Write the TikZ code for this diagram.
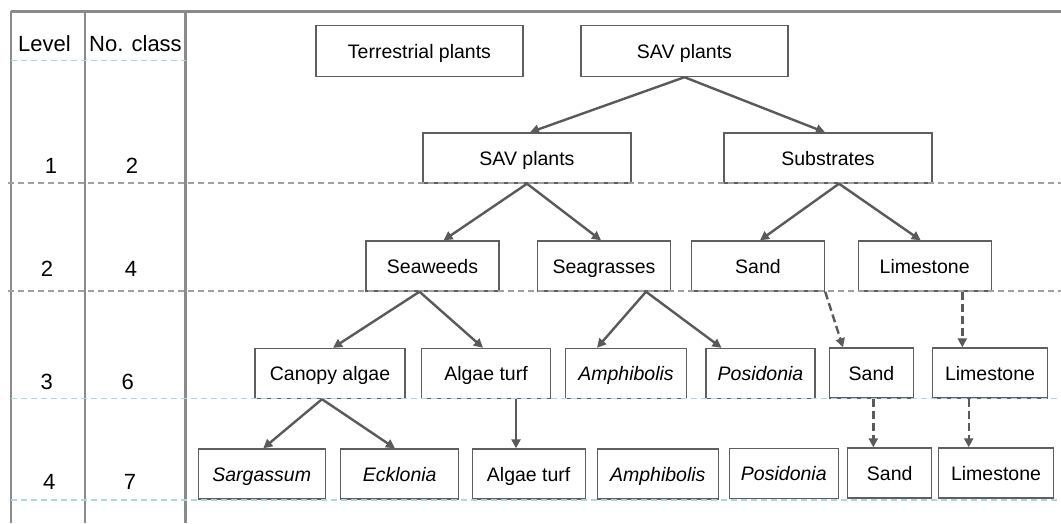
\documentclass[tikz,border=0pt]{standalone}
\usepackage{fontspec}
\setmainfont{Liberation Sans}
\usetikzlibrary{arrows.meta}
\definecolor{boxgray}{HTML}{5F5F5F}
\definecolor{arrgray}{HTML}{5A5A5A}
\definecolor{framegray}{HTML}{8A8A8A}
\definecolor{gridgray}{HTML}{A0A0A0}
\definecolor{gridblue}{HTML}{A8D8E6}
\tikzset{
  bx/.style={draw=boxgray, line width=1.4pt, fill=white, inner sep=0pt,
    minimum height=50pt, text height=18pt, text depth=4pt,
    font=\fontsize{19.5}{23}\selectfont},
  tb/.style={inner sep=0pt, text height=20pt, text depth=4pt,
    font=\fontsize{22}{26}\selectfont},
  arr/.style={draw=arrgray, line width=2.4pt,
    -{Triangle[length=9pt,width=9pt]}},
  darr/.style={arr, dash pattern=on 8pt off 4pt},
  gline/.style={draw=gridgray, line width=1.3pt, dash pattern=on 6pt off 4pt},
  bline/.style={draw=gridblue, line width=1.3pt, dash pattern=on 6pt off 4pt},
  fline/.style={draw=framegray, line width=2.2pt}
}
\begin{document}
\begin{tikzpicture}[x=1pt,y=-1pt]
\useasboundingbox (0,0) rectangle (1061,523);
\fill[white] (0,0) rectangle (1061,523);

% frame
\draw[fline] (11,11.5) -- (1061,11.5);
\draw[fline] (11,11) -- (11,523);
\draw[fline] (85,11) -- (85,523);
\draw[fline] (185.5,11) -- (185.5,523);

% table texts
\node[tb] (hlev) at (44.5,43) {Level};
\node[tb] (hnum) at (135.5,43) {No. class};
\node[tb] (l1) at (51,165) {1};
\node[tb] (n1) at (132,165) {2};
\node[tb] (l2) at (47,268) {2};
\node[tb] (n2) at (131,268) {4};
\node[tb] (l3) at (46.7,381) {3};
\node[tb] (n3) at (127.7,381) {6};
\node[tb] (l4) at (49.3,481) {4};
\node[tb] (n4) at (130,481) {7};

% row 0
\node[bx, minimum width=207pt, minimum height=51pt] (terr) at (419.5,51) {Terrestrial plants};
\node[bx, minimum width=207pt, minimum height=51pt] (savtop) at (684.5,51) {SAV plants};
% row 1
\node[bx, minimum width=208pt] (sav1) at (527,158) {SAV plants};
\node[bx, minimum width=208pt] (subs) at (828,158) {Substrates};
% row 2
\node[bx, minimum width=133pt] (seaw) at (432.5,266) {Seaweeds};
\node[bx, minimum width=133pt] (seag) at (604,266) {Seagrasses};
\node[bx, minimum width=133pt] (sand2) at (758,266) {Sand};
\node[bx, minimum width=133pt] (lime2) at (924.7,266) {Limestone};
% row 3
\node[bx, minimum width=150pt] (canopy) at (330,373.5) {Canopy algae};
\node[bx, minimum width=129pt] (turf3) at (486,373.5) {Algae turf};
\node[bx, minimum width=121pt] (amph3) at (626,373.5) {\itshape Amphibolis};
\node[bx, minimum width=109pt] (posi3) at (760.5,373.5) {\itshape Posidonia};
\node[bx, minimum width=84pt] (sand3) at (871.5,373) {Sand};
\node[bx, minimum width=115pt] (lime3) at (990,373) {Limestone};
% row 4
\node[bx, minimum width=127pt] (sarg) at (261.7,474) {\itshape Sargassum};
\node[bx, minimum width=118pt] (eckl) at (399.7,474) {\itshape Ecklonia};
\node[bx, minimum width=113pt] (turf4) at (528.7,474) {Algae turf};
\node[bx, minimum width=121pt] (amph4) at (657.8,474) {\itshape Amphibolis};
\node[bx, minimum width=109pt] (posi4) at (783.8,473.5) {\itshape Posidonia};
\node[bx, minimum width=84pt] (sand4) at (889.7,473) {Sand};
\node[bx, minimum width=115pt] (lime4) at (996,473) {Limestone};

% grid lines
\draw[bline] (11,60.5) -- (185.5,60.5);
\draw[gline] (8,183) -- (1061,183);
\draw[gline] (8,291) -- (1061,291);
\draw[bline] (11,398.5) -- (1061,398.5);
\draw[bline] (11,500) -- (1061,500);

% solid arrows
\draw[arr] (savtop.south) -- ([xshift=3pt]sav1.north);
\draw[arr] (savtop.south) -- ([xshift=-3pt]subs.north);
\draw[arr] (sav1.south) -- ([xshift=11pt]seaw.north);
\draw[arr] (sav1.south) -- ([xshift=-3pt]seag.north);
\draw[arr] ([xshift=11pt]subs.south) -- ([xshift=2pt]sand2.north);
\draw[arr] ([xshift=11pt]subs.south) -- ([xshift=-4pt]lime2.north);
\draw[arr] ([xshift=-13pt]seaw.south) -- ([xshift=3pt]canopy.north);
\draw[arr] ([xshift=-13pt]seaw.south) -- ([xshift=-3pt]turf3.north);
\draw[arr] ([xshift=42pt]seag.south) -- ([xshift=-29pt]amph3.north);
\draw[arr] ([xshift=42pt]seag.south) -- ([xshift=-39pt]posi3.north);
\draw[arr] ([xshift=-8pt]canopy.south) -- ([xshift=1.6pt]sarg.north);
\draw[arr] ([xshift=-8pt]canopy.south) -- ([xshift=-4.7pt]eckl.north);
\draw[arr] ([xshift=30pt]turf3.south) -- ([xshift=-12.7pt]turf4.north);

% dashed arrows
\draw[darr] (sand2.south east) -- ([xshift=-28.5pt]sand3.north);
\draw[darr] ([xshift=37.6pt]lime2.south) -- ([xshift=-27.7pt]lime3.north);
\draw[darr] ([xshift=1.8pt]sand3.south) -- ([xshift=-16.4pt]sand4.north);
\draw[darr] ([xshift=-21.3pt]lime3.south) -- ([xshift=-27.3pt]lime4.north);
\end{tikzpicture}
\end{document}
